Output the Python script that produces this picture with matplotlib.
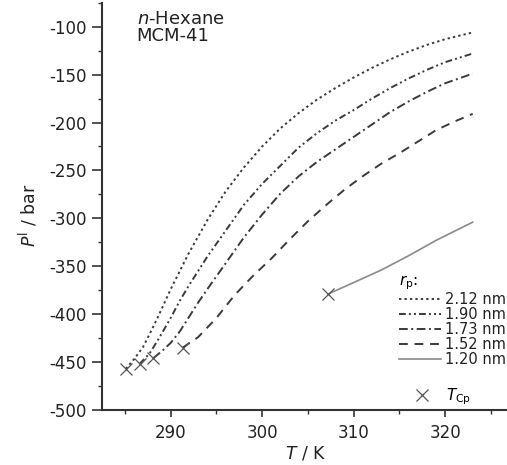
import matplotlib
matplotlib.use("Agg")
import matplotlib.pyplot as plt
from matplotlib.ticker import MultipleLocator

plt.rcParams['font.family'] = ['DejaVu Sans']
plt.rcParams['mathtext.fontset'] = 'dejavusans'
plt.rcParams['axes.unicode_minus'] = False

# Data
T_212 = [285.1, 286, 287, 288, 289, 290, 292, 294, 296, 298, 300, 302, 304, 306, 308, 310, 312, 314, 316, 318, 320, 323]
P_212 = [-457, -447, -434, -415, -395, -374, -336, -302, -272, -247, -225, -206, -190, -176, -164, -153, -143, -134, -126, -119, -113, -106]

T_190 = [286.6, 287.7, 288.8, 290, 291, 292, 294, 296, 298, 300, 302, 304, 306, 308, 310, 312, 314, 316, 318, 320, 323]
P_190 = [-452, -441, -424, -404, -386, -370, -340, -313, -286, -264, -245, -226, -211, -198, -187, -175, -164, -154, -145, -137, -128]

T_173 = [288.1, 289, 290, 291, 292, 293, 294, 296, 298, 300, 302, 304, 306, 308, 310, 312, 314, 316, 318, 320, 323]
P_173 = [-446, -439, -430, -418, -403, -388, -374, -347, -320, -296, -274, -256, -241, -228, -215, -202, -189, -178, -168, -159, -149]

T_152 = [291.3, 293, 295, 297, 299, 301, 303, 305, 307, 309, 311, 313, 315, 317, 319, 321, 323]
P_152 = [-435, -424, -404, -380, -360, -342, -322, -303, -286, -270, -256, -243, -232, -220, -208, -199, -191]

T_120 = [307.2, 310, 313, 316, 319, 323]
P_120 = [-379, -367, -354, -339, -323, -304]

T_cp = [285.1, 286.6, 288.1, 291.3, 307.2]
P_cp = [-457, -452, -446, -435, -379]

labels = ["2.12 nm", "1.90 nm", "1.73 nm", "1.52 nm", "1.20 nm"]

fig = plt.figure(figsize=(5.07, 4.65), dpi=100)
ax = fig.add_axes([0.2012, 0.1183, 0.8033, 0.8758])

dark = '#3a3a3a'
styles = [
    dict(color=dark, lw=1.4, dashes=(1.2, 1.6)),
    dict(color=dark, lw=1.4, dashes=(3.5, 1.6, 1.0, 1.6, 1.0, 1.6)),
    dict(color=dark, lw=1.4, dashes=(4.5, 1.8, 1.0, 1.8)),
    dict(color=dark, lw=1.4, dashes=(4.5, 3.5)),
    dict(color='#8a8a8a', lw=1.2, linestyle='-'),
]
series = [(T_212, P_212), (T_190, P_190), (T_173, P_173), (T_152, P_152), (T_120, P_120)]
handles = []
for (t, p), st, lab in zip(series, styles, labels):
    ln, = ax.plot(t, p, label=lab, **st)
    handles.append(ln)

cp, = ax.plot(T_cp, P_cp, linestyle='none', marker='x', ms=8, mew=0.9, color='#555555')

ax.set_xlim(282.5, 327)
ax.set_ylim(-500, -75)
ax.xaxis.set_minor_locator(MultipleLocator(5))
ax.yaxis.set_major_locator(MultipleLocator(50))
ax.yaxis.set_minor_locator(MultipleLocator(25))
ax.set_xticks([290, 300, 310, 320])
for s in ['top', 'right']:
    ax.spines[s].set_visible(False)
for s in ['left', 'bottom']:
    ax.spines[s].set_linewidth(1.5)
    ax.spines[s].set_color('#333333')
ax.tick_params(axis='both', which='major', direction='out', length=5, width=1.2,
               labelsize=12, colors='#333333', labelcolor='#222222')
ax.tick_params(axis='y', which='major', length=7, pad=4)
ax.tick_params(axis='both', which='minor', direction='out', length=3, width=1.0, colors='#333333')
ax.tick_params(axis='x', pad=5)

ax.set_xlabel('$T$ / K', fontsize=12.5, color='#222222', labelpad=2)
ax.set_ylabel('$P^{\\mathrm{l}}$ / bar', fontsize=12.5, color='#222222')
ax.yaxis.set_label_coords(-0.153, 0.479)

ax.text(0.085, 0.983, '$n$-Hexane\nMCM-41', transform=ax.transAxes, ha='left', va='top',
        fontsize=13, color='#222222', linespacing=0.92)

leg = ax.legend(handles=handles, labels=labels, loc='upper left',
                bbox_to_anchor=(0.73, 0.335), frameon=False, fontsize=10.5,
                handlelength=2.85, handletextpad=0.25, labelspacing=0.0,
                title='$r_\\mathrm{p}$:', title_fontsize=11, alignment='left',
                borderpad=0, borderaxespad=0)
for t in leg.get_texts():
    t.set_color('#222222')
ax.add_artist(leg)

leg2 = ax.legend(handles=[cp], labels=['$T_\\mathrm{Cp}$'], loc='upper left',
                 bbox_to_anchor=(0.765, 0.058), frameon=False, fontsize=11,
                 handlelength=1.1, handletextpad=1.0, borderpad=0, borderaxespad=0)

fig.savefig('out.png', dpi=100)
